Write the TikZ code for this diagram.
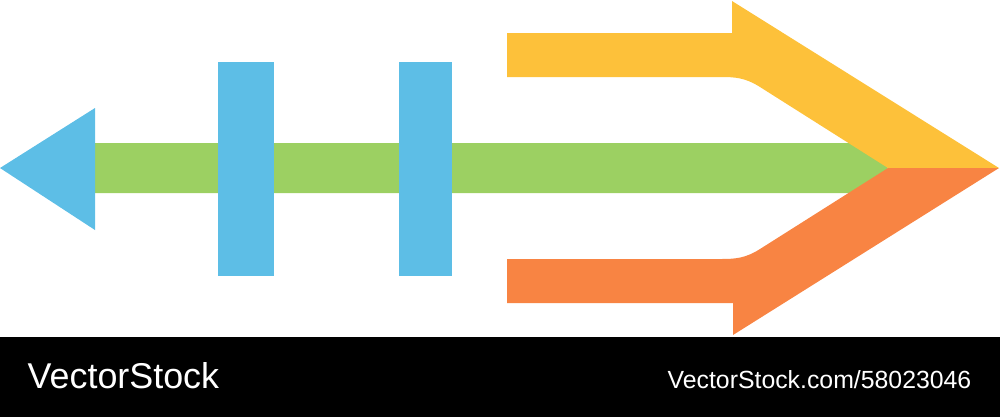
\documentclass[tikz,border=0pt]{standalone}
\usepackage{fontspec}
\setmainfont{Liberation Sans}
\definecolor{skyblue}{RGB}{93,190,230}
\definecolor{leafgreen}{RGB}{156,208,98}
\definecolor{sunyellow}{RGB}{253,193,58}
\definecolor{rustorange}{RGB}{248,132,67}

\begin{document}
\begin{tikzpicture}[x=0.01cm,y=-0.01cm,
  shaft/.style={fill=leafgreen,draw=none},
  bar/.style={fill=skyblue,draw=none},
  brand/.style={text=white,inner sep=0pt}]
\useasboundingbox (0,0) rectangle (1000,417);
% middle shaft and the blue tail
\path[shaft] (95,143) -- (870,143) -- (888,168) -- (870,193) -- (95,193) -- cycle;
\path[bar] (0,168) -- (95,108) -- (95,230) -- cycle;
\path[bar] (218,62) rectangle (274,276);
\path[bar] (399,62) rectangle (452,276);
% upper and lower branches joining in one head
\path[fill=sunyellow] (507,33) -- (732,33) -- (732,1) -- (999,168) -- (888,168) -- (760,87)
  .. controls (745,77.5) and (735,77) .. (720,77) -- (507,77) -- cycle;
\path[fill=rustorange] (507,303) -- (733,303) -- (733,335) -- (999,168) -- (888,168) -- (760,249)
  .. controls (745,258.5) and (735,259) .. (720,259) -- (507,259) -- cycle;
% footer
\fill[black] (0,337) rectangle (1000,417);
\node[brand,anchor=base west,font=\fontsize{10.2}{12}\selectfont] (logo) at (27,388) {VectorStock};
\node[brand,anchor=base east,font=\fontsize{7.06}{9}\selectfont] (link) at (972,388) {VectorStock.com/58023046};
\end{tikzpicture}
\end{document}
